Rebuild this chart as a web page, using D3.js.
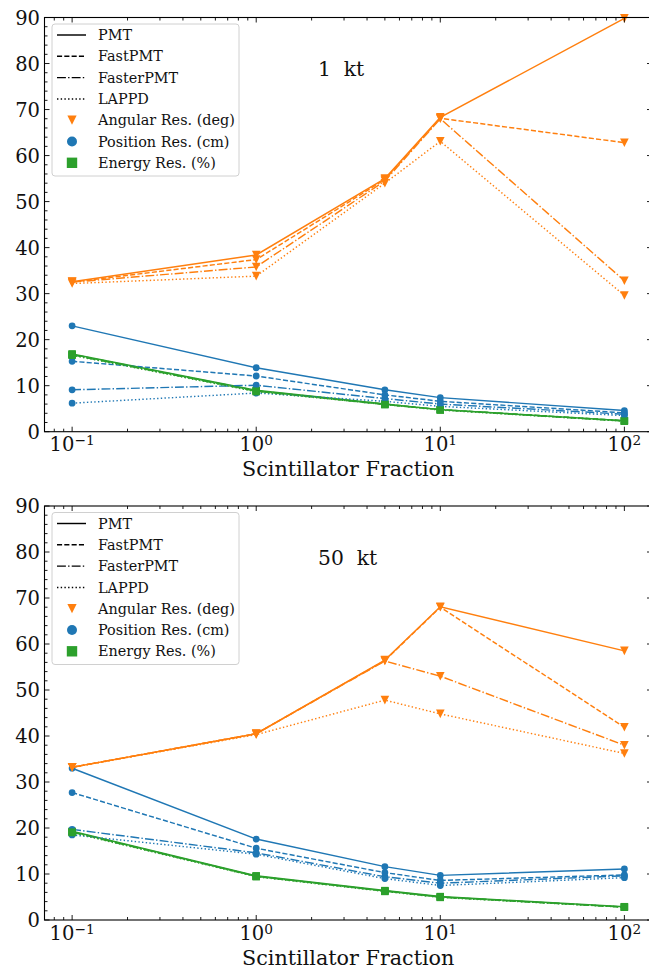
<!DOCTYPE html>
<html>
<head>
<meta charset="utf-8">
<script src="https://cdn.jsdelivr.net/npm/d3@7"></script>
<style>
  html, body { margin: 0; padding: 0; background: #fff; }
  svg { display: block; }
  svg text { font-family: "DejaVu Serif", "Liberation Serif", serif; }
</style>
</head>
<body>
<svg id="chart" width="649" height="971"></svg>
<script>
// ---------------- DATA ----------------
const xVals = [0.1, 1, 5, 10, 100];
const techs = ["PMT", "FastPMT", "FasterPMT", "LAPPD"];
const metricLabels = ["Angular Res. (deg)", "Position Res. (cm)", "Energy Res. (%)"];
const yTickValues = [0, 10, 20, 30, 40, 50, 60, 70, 80, 90];
const xTickExponents = [-1, 0, 1, 2];
const panelTitles = ["1  kt", "50  kt"];

// rows: PMT, FastPMT, FasterPMT, LAPPD ; columns follow xVals
const ang1kt = [
  [32.6, 38.4, 55.0, 68.3, 89.8],
  [32.5, 37.4, 54.8, 68.1, 62.8],
  [32.5, 35.8, 54.5, 68.0, 32.8],
  [32.2, 33.8, 54.0, 63.1, 29.6]
];
const pos1kt = [
  [23.0, 13.9, 9.1, 7.4, 4.6],
  [15.3, 12.1, 8.0, 6.6, 4.1],
  [9.1, 10.1, 7.2, 6.0, 3.8],
  [6.2, 8.4, 6.6, 5.5, 3.5]
];
const en1kt = [
  [16.9, 9.0, 6.0, 4.8, 2.4],
  [16.8, 8.9, 6.0, 4.8, 2.4],
  [16.7, 8.8, 5.9, 4.8, 2.3],
  [16.6, 8.7, 5.9, 4.7, 2.3]
];
const ang50kt = [
  [33.2, 40.5, 56.5, 68.1, 58.5],
  [33.2, 40.5, 56.4, 68.0, 41.9],
  [33.2, 40.5, 56.3, 53.0, 38.0],
  [33.2, 40.3, 47.8, 44.8, 36.2]
];
const pos50kt = [
  [33.0, 17.6, 11.6, 9.7, 11.1],
  [27.7, 15.6, 10.3, 8.6, 9.8],
  [19.7, 14.6, 9.4, 8.0, 9.6],
  [18.5, 14.3, 9.0, 7.5, 9.2]
];
const en50kt = [
  [19.3, 9.6, 6.4, 5.1, 2.9],
  [19.2, 9.5, 6.3, 5.0, 2.8],
  [19.1, 9.5, 6.3, 5.0, 2.8],
  [19.0, 9.4, 6.2, 4.9, 2.8]
];

// ---------------- STYLE ----------------
const colors = ["#ff7f0e", "#1f77b4", "#2ca02c"]; // angular, position, energy
const dashes = [null, "5.1,2.2", "8.9,2.2,1.4,2.2", "1.4,2.3"];
const LW = 1.45;
const FONT = "DejaVu Serif, Liberation Serif, serif";

const svg = d3.select("#chart");

function markerPath(kind, s) {
  if (kind === 0) { // triangle down
    return `M${-s},${-s}L${s},${-s}L0,${s}Z`;
  } else if (kind === 1) {
    return d3.symbol(d3.symbolCircle, Math.PI * s * s)();
  } else {
    return `M${-s},${-s}H${s}V${s}H${-s}Z`;
  }
}
const markerSize = [4.3, 3.4, 3.7];
const legendMarkerSize = [4.6, 5.0, 5.2];

function drawPanel(top, bottom, datasets, title) {
  const left = 44.5, right = 652;
  const x = d3.scaleLog().domain([Math.pow(10, -1.15), Math.pow(10, 2.15)]).range([left, right]);
  const y = d3.scaleLinear().domain([0, 90]).range([bottom, top]);
  const g = svg.append("g");

  techs.forEach((t, ti) => {
    datasets.forEach((ds, mi) => {
      const vals = ds[ti];
      const pts = xVals.map((xv, i) => [x(xv), y(vals[i])]);
      g.append("path")
        .attr("d", d3.line()(pts))
        .attr("fill", "none")
        .attr("stroke", colors[mi])
        .attr("stroke-width", LW)
        .attr("stroke-dasharray", dashes[ti]);
      g.selectAll(null).data(pts).enter().append("path")
        .attr("transform", d => `translate(${d[0]},${d[1]})`)
        .attr("d", markerPath(mi, markerSize[mi]))
        .attr("fill", colors[mi]);
    });
  });

  const minorX = [];
  [-2, -1, 0, 1, 2].forEach(e => {
    for (let k = 2; k <= 9; k++) {
      const v = k * Math.pow(10, e);
      if (v >= x.domain()[0] && v <= x.domain()[1]) minorX.push(v);
    }
  });
  const majorX = xTickExponents.map(e => Math.pow(10, e));
  const minorY = d3.range(0, 91, 2).filter(v => v % 10 !== 0);

  const axG = svg.append("g").attr("stroke", "#000").attr("stroke-width", 0.9);
  majorX.forEach(v => {
    axG.append("line").attr("x1", x(v)).attr("x2", x(v)).attr("y1", bottom).attr("y2", bottom - 5);
    axG.append("line").attr("x1", x(v)).attr("x2", x(v)).attr("y1", top).attr("y2", top + 5);
  });
  minorX.forEach(v => {
    axG.append("line").attr("x1", x(v)).attr("x2", x(v)).attr("y1", bottom).attr("y2", bottom - 3);
    axG.append("line").attr("x1", x(v)).attr("x2", x(v)).attr("y1", top).attr("y2", top + 3);
  });
  yTickValues.forEach(v => {
    axG.append("line").attr("x1", left).attr("x2", left + 5).attr("y1", y(v)).attr("y2", y(v));
    axG.append("line").attr("x1", right).attr("x2", right - 5).attr("y1", y(v)).attr("y2", y(v));
  });
  minorY.forEach(v => {
    axG.append("line").attr("x1", left).attr("x2", left + 3).attr("y1", y(v)).attr("y2", y(v));
    axG.append("line").attr("x1", right).attr("x2", right - 3).attr("y1", y(v)).attr("y2", y(v));
  });
  axG.append("rect").attr("x", left).attr("y", top).attr("width", right - left).attr("height", bottom - top)
    .attr("fill", "none").attr("stroke-width", 1.1);

  yTickValues.forEach(v => {
    svg.append("text").attr("x", left - 4.5).attr("y", y(v)).attr("dy", "0.36em")
      .attr("font-family", FONT)
      .attr("text-anchor", "end").attr("font-size", 19.5).attr("fill", "#111").text(v);
  });
  xTickExponents.forEach(e => {
    const tx = svg.append("text").attr("x", x(Math.pow(10, e))).attr("y", bottom + 19.5)
      .attr("font-family", FONT)
      .attr("text-anchor", "middle").attr("font-size", 19.5).attr("fill", "#111");
    tx.append("tspan").text("10");
    tx.append("tspan").attr("font-size", 13.7).attr("baseline-shift", "6.5px")
      .text(e < 0 ? "\u2212" + Math.abs(e) : String(e));
  });
  svg.append("text").attr("x", (left + right) / 2).attr("y", bottom + 44.5)
    .attr("font-family", FONT)
    .attr("text-anchor", "middle").attr("font-size", 20.7).attr("fill", "#111")
    .text("Scintillator Fraction");

  svg.append("text").attr("x", 318).attr("y", top + 58.5).attr("font-size", 20.3)
    .attr("font-family", FONT)
    .attr("fill", "#111").style("white-space", "pre").text(title);

  const lg = svg.append("g").attr("transform", `translate(52,${top + 6.5})`);
  lg.append("rect").attr("width", 187).attr("height", 152).attr("rx", 3)
    .attr("fill", "#fff").attr("fill-opacity", 0.85).attr("stroke", "#d0d0d0").attr("stroke-width", 1);
  const rowY = i => 11 + i * 21.3;
  techs.forEach((t, i) => {
    lg.append("line").attr("x1", 5).attr("x2", 34).attr("y1", rowY(i)).attr("y2", rowY(i))
      .attr("stroke", "#000").attr("stroke-width", LW).attr("stroke-dasharray", dashes[i]);
    lg.append("text").attr("x", 46).attr("y", rowY(i)).attr("dy", "0.36em")
      .attr("font-family", FONT)
      .attr("font-size", 14.4).attr("fill", "#111").text(t);
  });
  metricLabels.forEach((m, j) => {
    const i = j + 4;
    lg.append("path").attr("transform", `translate(20,${rowY(i)})`)
      .attr("d", markerPath(j, legendMarkerSize[j])).attr("fill", colors[j]);
    lg.append("text").attr("x", 46).attr("y", rowY(i)).attr("dy", "0.36em")
      .attr("font-family", FONT)
      .attr("font-size", 14.4).attr("fill", "#111").text(m);
  });
}

drawPanel(17.5, 431.7, [ang1kt, pos1kt, en1kt], panelTitles[0]);
drawPanel(506, 920, [ang50kt, pos50kt, en50kt], panelTitles[1]);
</script>
</body>
</html>
